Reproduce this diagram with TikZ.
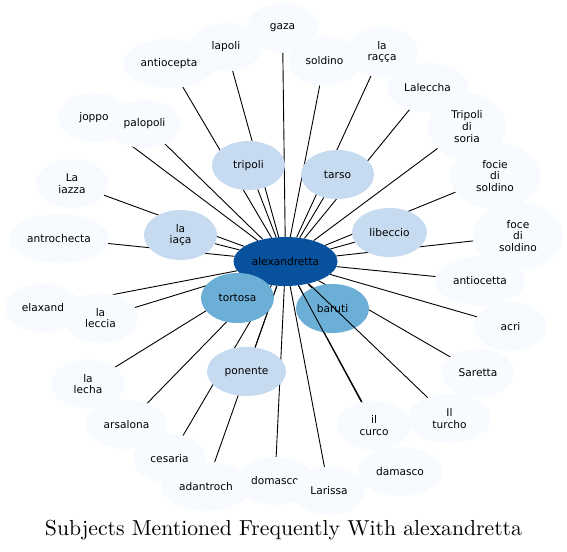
\documentclass[tikz,border=0pt]{standalone}
\usepackage{fontspec}
\newfontfamily\nodefont{DejaVu Sans}
\usetikzlibrary{shapes.geometric}
\pgfdeclarelayer{bg}
\pgfsetlayers{bg,main}
\definecolor{cdark}{HTML}{08519C}
\definecolor{cmed}{HTML}{6BAED6}
\definecolor{clight}{HTML}{C6DBEF}
\definecolor{couter}{HTML}{F7FBFF}
\tikzset{
  bub/.style={ellipse, inner sep=0pt, align=center, text=black,
    font=\nodefont\fontsize{10.6}{11.7}\selectfont},
  outerbub/.style={bub, fill=couter},
  lightbub/.style={bub, fill=clight},
  medbub/.style={bub, fill=cmed},
  centerbub/.style={bub, fill=cdark},
  sz/.style n args={2}{minimum width=#1pt, minimum height=#2pt},
  edge/.style={draw=black, line width=0.9pt},
}
\begin{document}
\begin{tikzpicture}[x=1pt, y=-1pt]
\useasboundingbox (0,0) rectangle (567,551);
% center
\node[centerbub, sz={104}{49}] (alex) at (285.5,261.5) {alexandretta};
% outer nodes
\node[outerbub, sz={92}{49}] (antiocepta) at (169,63.5) {antiocepta};
\node[outerbub, sz={72}{48}] (lapoli) at (226,47) {lapoli};
\node[outerbub, sz={72}{49}] (gaza) at (282.5,28) {gaza};
\node[outerbub, sz={72}{49}] (soldino) at (324.5,61) {soldino};
\node[outerbub, sz={72}{50}] (racca) at (382,52) {la\\raçça};
\node[outerbub, sz={81}{49}] (lalecchа) at (427.5,87.5) {Lalecchа};
\node[outerbub, sz={78}{66}] (tripolisoria) at (467,126.5) {Tripoli\\di\\soria};
\node[outerbub, sz={90}{66}] (focie) at (495,176) {focie\\di\\soldino};
\node[outerbub, sz={90}{68}] (foce) at (518,236) {foce\\di\\soldino};
\node[outerbub, sz={90}{49}] (antiocetta) at (480,281) {antiocetta};
\node[outerbub, sz={73}{49}] (acri) at (510.5,326.5) {acri};
\node[outerbub, sz={72}{49}] (saretta) at (478,373) {Saretta};
\node[outerbub, sz={83}{49}] (turcho) at (449.5,418.5) {Il\\turcho};
\node[outerbub, sz={74}{49}] (curco) at (374,425.5) {il\\curco};
\node[outerbub, sz={84}{49}] (damasco) at (400,471.5) {damasco};
\node[outerbub, sz={76}{48}] (domasco) at (275,481) {domasco};
\node[outerbub, sz={72}{48}] (larissa) at (329,491) {Larissa};
\node[outerbub, sz={90}{49}] (adantroch) at (206,486.5) {adantroch};
\node[outerbub, sz={73}{49}] (cesaria) at (169.5,458.5) {cesaria};
\node[outerbub, sz={81}{49}] (arsalona) at (126.5,424.5) {arsalona};
\node[outerbub, sz={74}{49}] (lecha) at (88,384) {la\\lecha};
\node[outerbub, sz={76}{48}] (elaxand) at (43,308) {elaxand};
\node[outerbub, sz={75}{50}] (leccia) at (100.5,318) {la\\leccia};
\node[outerbub, sz={100}{49}] (antrochecta) at (59,238.5) {antrochecta};
\node[outerbub, sz={72}{49}] (iazza) at (72,183.5) {La\\iazza};
\node[outerbub, sz={72}{49}] (joppo) at (94,117.5) {joppo};
\node[outerbub, sz={73}{48}] (palopoli) at (144.5,124) {palopoli};
% middle nodes
\node[lightbub, sz={73}{49}] (tripoli) at (248.5,165.5) {tripoli};
\node[lightbub, sz={73}{49}] (tarso) at (337.5,174.5) {tarso};
\node[lightbub, sz={73}{50}] (iaca) at (180.5,235) {la\\iaça};
\node[lightbub, sz={75}{49}] (libeccio) at (389.5,232.5) {libeccio};
\node[lightbub, sz={79}{49}] (ponente) at (246.5,371.5) {ponente};
\node[medbub, sz={73}{50}] (tortosa) at (237.5,298) {tortosa};
\node[medbub, sz={73}{49}] (baruti) at (332.5,308.5) {baruti};
% edges behind the nodes
\begin{pgfonlayer}{bg}
\foreach \n in {antiocepta,lapoli,gaza,soldino,racca,lalecchа,tripolisoria,focie,foce,antiocetta,acri,saretta,damasco,domasco,larissa,adantroch,cesaria,arsalona,lecha,elaxand,leccia,antrochecta,iazza,joppo,palopoli,tripoli,tarso,iaca,libeccio,ponente,tortosa,baruti}
  \draw[edge] (alex) -- (\n);
\end{pgfonlayer}
% edges drawn over baruti
\draw[edge] (alex) -- (curco);
\draw[edge] (alex) -- (turcho);
% title
\node[anchor=base, inner sep=0pt] (title) at (283.5,535) {\resizebox{477pt}{!}{Subjects Mentioned Frequently With alexandretta}};
\end{tikzpicture}
\end{document}
